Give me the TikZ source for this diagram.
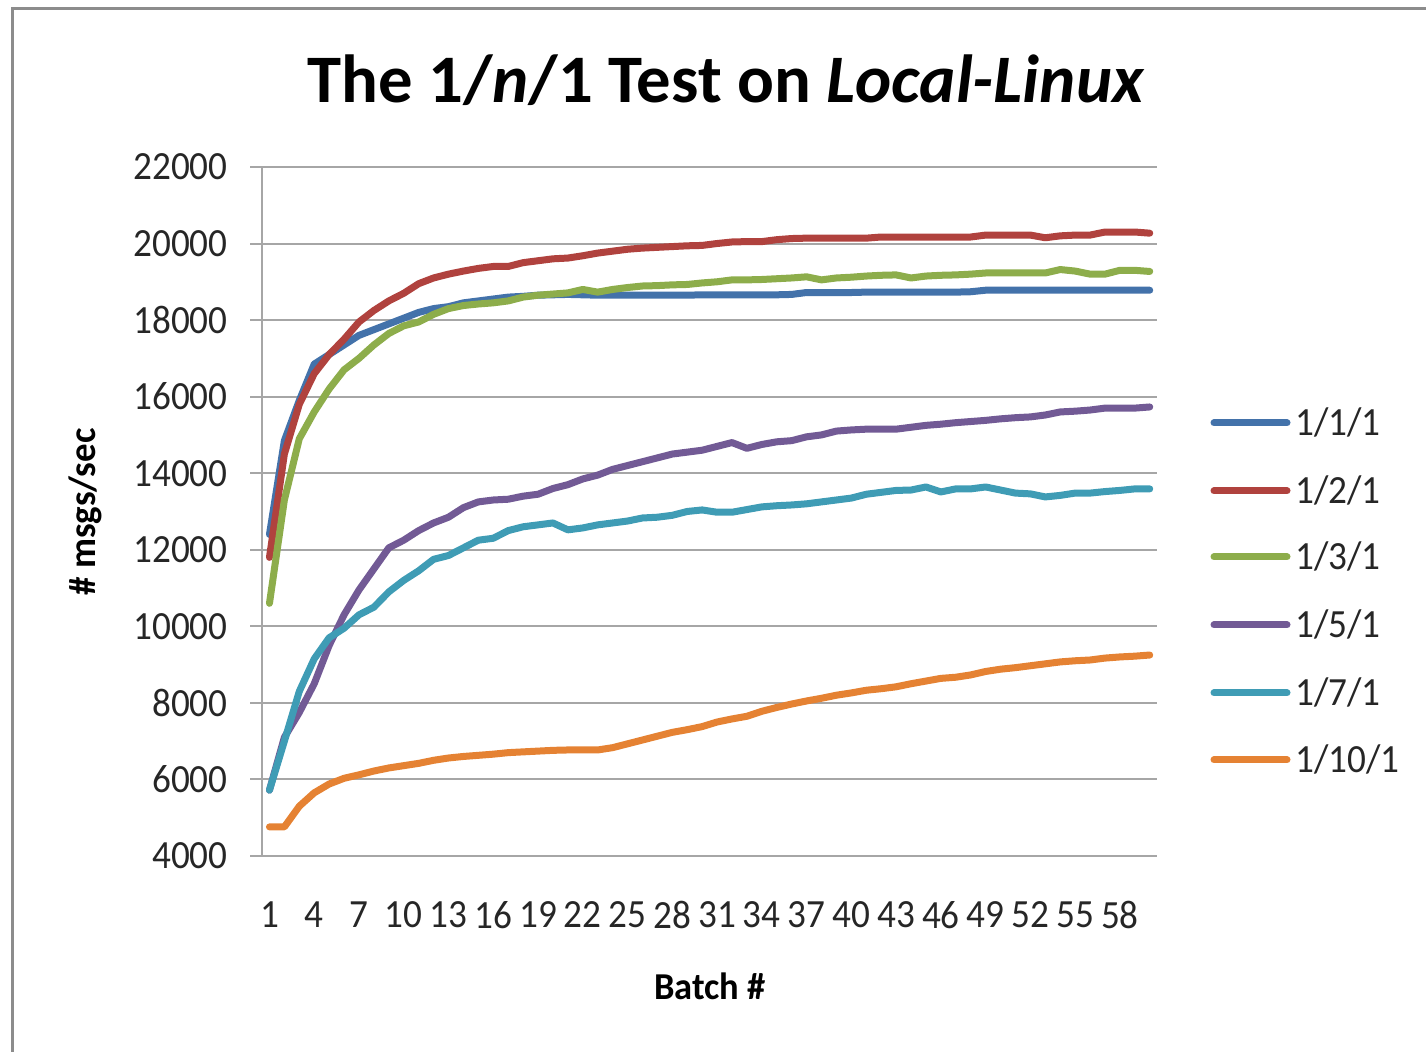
\documentclass[tikz,border=0pt]{standalone}
\usepackage{fontspec}
\setmainfont{Carlito}
\definecolor{cA}{HTML}{4372AA}
\definecolor{cB}{HTML}{B0423E}
\definecolor{cC}{HTML}{8DAD4B}
\definecolor{cD}{HTML}{725A95}
\definecolor{cE}{HTML}{3F9CB5}
\definecolor{cF}{HTML}{E58233}
\definecolor{gridc}{HTML}{A6A6A6}
\definecolor{framec}{HTML}{8C8C8C}
\newcommand\hs[2][0.93]{\scalebox{#1}[1]{#2}}
\begin{document}
\begin{tikzpicture}[x=0.5pt,y=-0.5pt,
  gridline/.style={draw=gridc, line width=1pt},
  series/.style={line width=3.5pt, line join=round, line cap=round},
  ticklab/.style={font=\fontsize{20}{24}\selectfont, inner sep=0pt, text=black!85},
  legtext/.style={font=\fontsize{20}{24}\selectfont, inner sep=0pt, anchor=base west, text=black!85},
  axtitle/.style={font=\bfseries\fontsize{19}{23}\selectfont, inner sep=0pt}]
\useasboundingbox (0,0) rectangle (1426,1052);
% frame
\draw[framec, line width=1.5pt] (12,1052) -- (12,9) -- (1426,9);
% gridlines and ticks
\foreach \v in {4,6,...,22}{
  \draw[gridline] (250,{856-(\v-4)*38.28}) -- (1157,{856-(\v-4)*38.28});
  \node[ticklab, anchor=east] (yt\v) at (228,{856-(\v-4)*38.28}) {\hs{\v000}};
}
\draw[gridline] (262,167) -- (262,856);
\foreach \b in {1,4,...,58}{
  \node[ticklab] (xt\b) at ({262+(\b-0.5)*14.92},915) {\hs{\b}};
}
% titles
\node[font=\bfseries\fontsize{34}{40}\selectfont, inner sep=0pt, anchor=base] (title) at (726,103)
  {\hs[1.01]{The 1/\textit{n}/1 Test on \textit{Local-Linux}}};
\node[axtitle, anchor=base] (xlab) at (710,1000) {\hs[0.96]{Batch \#}};
\node[axtitle, rotate=90] (ylab) at (85,512) {\hs[0.97]{\# msgs/sec}};
% data
\begin{scope}[xshift=127.27pt, yshift=-504.56pt, x=7.46pt, y=19.14pt]
\draw[series, cA] plot coordinates {(1,12.4) (2,14.85) (3,15.9) (4,16.85) (5,17.1) (6,17.35) (7,17.6) (8,17.75) (9,17.9) (10,18.05) (11,18.2) (12,18.3) (13,18.35) (14,18.45) (15,18.5) (16,18.55) (17,18.6) (18,18.62) (19,18.65) (20,18.66) (21,18.67) (22,18.66) (23,18.65) (24,18.65) (25,18.65) (26,18.65) (27,18.65) (28,18.65) (29,18.65) (30,18.66) (31,18.66) (32,18.66) (33,18.66) (34,18.66) (35,18.66) (36,18.67) (37,18.72) (38,18.72) (39,18.72) (40,18.72) (41,18.73) (42,18.73) (43,18.73) (44,18.73) (45,18.73) (46,18.73) (47,18.73) (48,18.74) (49,18.78) (50,18.78) (51,18.78) (52,18.78) (53,18.78) (54,18.78) (55,18.78) (56,18.78) (57,18.78) (58,18.78) (59,18.78) (60,18.78)};
\draw[series, cB] plot coordinates {(1,11.8) (2,14.5) (3,15.8) (4,16.6) (5,17.1) (6,17.5) (7,17.95) (8,18.25) (9,18.5) (10,18.7) (11,18.95) (12,19.1) (13,19.2) (14,19.28) (15,19.35) (16,19.4) (17,19.4) (18,19.5) (19,19.55) (20,19.6) (21,19.62) (22,19.68) (23,19.75) (24,19.8) (25,19.85) (26,19.88) (27,19.9) (28,19.92) (29,19.94) (30,19.95) (31,20.0) (32,20.04) (33,20.05) (34,20.05) (35,20.1) (36,20.13) (37,20.14) (38,20.14) (39,20.14) (40,20.14) (41,20.14) (42,20.17) (43,20.17) (44,20.17) (45,20.17) (46,20.17) (47,20.17) (48,20.17) (49,20.22) (50,20.22) (51,20.22) (52,20.22) (53,20.15) (54,20.2) (55,20.22) (56,20.22) (57,20.3) (58,20.3) (59,20.3) (60,20.27)};
\draw[series, cC] plot coordinates {(1,10.6) (2,13.3) (3,14.9) (4,15.6) (5,16.2) (6,16.7) (7,17.0) (8,17.35) (9,17.65) (10,17.85) (11,17.95) (12,18.15) (13,18.3) (14,18.38) (15,18.42) (16,18.45) (17,18.5) (18,18.6) (19,18.65) (20,18.68) (21,18.71) (22,18.8) (23,18.73) (24,18.8) (25,18.85) (26,18.89) (27,18.9) (28,18.92) (29,18.93) (30,18.97) (31,19.0) (32,19.05) (33,19.05) (34,19.06) (35,19.08) (36,19.1) (37,19.13) (38,19.05) (39,19.1) (40,19.12) (41,19.15) (42,19.17) (43,19.18) (44,19.1) (45,19.15) (46,19.17) (47,19.18) (48,19.2) (49,19.23) (50,19.23) (51,19.23) (52,19.23) (53,19.23) (54,19.32) (55,19.28) (56,19.2) (57,19.2) (58,19.3) (59,19.3) (60,19.27)};
\draw[series, cD] plot coordinates {(1,5.72) (2,7.1) (3,7.75) (4,8.5) (5,9.5) (6,10.3) (7,10.95) (8,11.5) (9,12.05) (10,12.25) (11,12.5) (12,12.7) (13,12.85) (14,13.1) (15,13.25) (16,13.3) (17,13.32) (18,13.4) (19,13.45) (20,13.6) (21,13.7) (22,13.85) (23,13.95) (24,14.1) (25,14.2) (26,14.3) (27,14.4) (28,14.5) (29,14.55) (30,14.6) (31,14.7) (32,14.8) (33,14.65) (34,14.75) (35,14.82) (36,14.85) (37,14.95) (38,15.0) (39,15.1) (40,15.13) (41,15.15) (42,15.15) (43,15.15) (44,15.2) (45,15.25) (46,15.28) (47,15.32) (48,15.35) (49,15.38) (50,15.42) (51,15.45) (52,15.47) (53,15.52) (54,15.6) (55,15.62) (56,15.65) (57,15.7) (58,15.7) (59,15.7) (60,15.73)};
\draw[series, cE] plot coordinates {(1,5.72) (2,7.0) (3,8.3) (4,9.15) (5,9.7) (6,9.95) (7,10.3) (8,10.5) (9,10.9) (10,11.2) (11,11.45) (12,11.75) (13,11.85) (14,12.05) (15,12.25) (16,12.3) (17,12.5) (18,12.6) (19,12.65) (20,12.7) (21,12.52) (22,12.57) (23,12.65) (24,12.7) (25,12.75) (26,12.83) (27,12.85) (28,12.9) (29,13.0) (30,13.04) (31,12.98) (32,12.98) (33,13.05) (34,13.12) (35,13.15) (36,13.17) (37,13.2) (38,13.25) (39,13.3) (40,13.35) (41,13.45) (42,13.5) (43,13.55) (44,13.56) (45,13.64) (46,13.51) (47,13.59) (48,13.59) (49,13.64) (50,13.56) (51,13.48) (52,13.46) (53,13.38) (54,13.42) (55,13.48) (56,13.48) (57,13.52) (58,13.55) (59,13.59) (60,13.59)};
\draw[series, cF] plot coordinates {(1,4.76) (2,4.76) (3,5.3) (4,5.65) (5,5.88) (6,6.03) (7,6.12) (8,6.22) (9,6.3) (10,6.36) (11,6.42) (12,6.5) (13,6.56) (14,6.6) (15,6.63) (16,6.66) (17,6.7) (18,6.72) (19,6.74) (20,6.76) (21,6.77) (22,6.77) (23,6.77) (24,6.83) (25,6.93) (26,7.03) (27,7.13) (28,7.23) (29,7.3) (30,7.38) (31,7.5) (32,7.58) (33,7.65) (34,7.78) (35,7.88) (36,7.97) (37,8.05) (38,8.12) (39,8.2) (40,8.26) (41,8.33) (42,8.37) (43,8.42) (44,8.5) (45,8.57) (46,8.64) (47,8.67) (48,8.73) (49,8.82) (50,8.88) (51,8.92) (52,8.97) (53,9.02) (54,9.07) (55,9.1) (56,9.12) (57,9.17) (58,9.2) (59,9.22) (60,9.25)};
\end{scope}
% legend
\foreach \lab/\c/\yy [count=\i] in {{1/1/1}/cA/423, {1/2/1}/cB/491, {1/3/1}/cC/557, {1/5/1}/cD/625, {1/7/1}/cE/693, {1/10/1}/cF/760}{
  \coordinate (ls\i) at (1214,\yy);
  \node[legtext] (lt\i) at (1295,{\yy+13}) {\hs{\lab}};
  \draw[series, \c] (ls\i) -- (1287,\yy);
}
\end{tikzpicture}
\end{document}
